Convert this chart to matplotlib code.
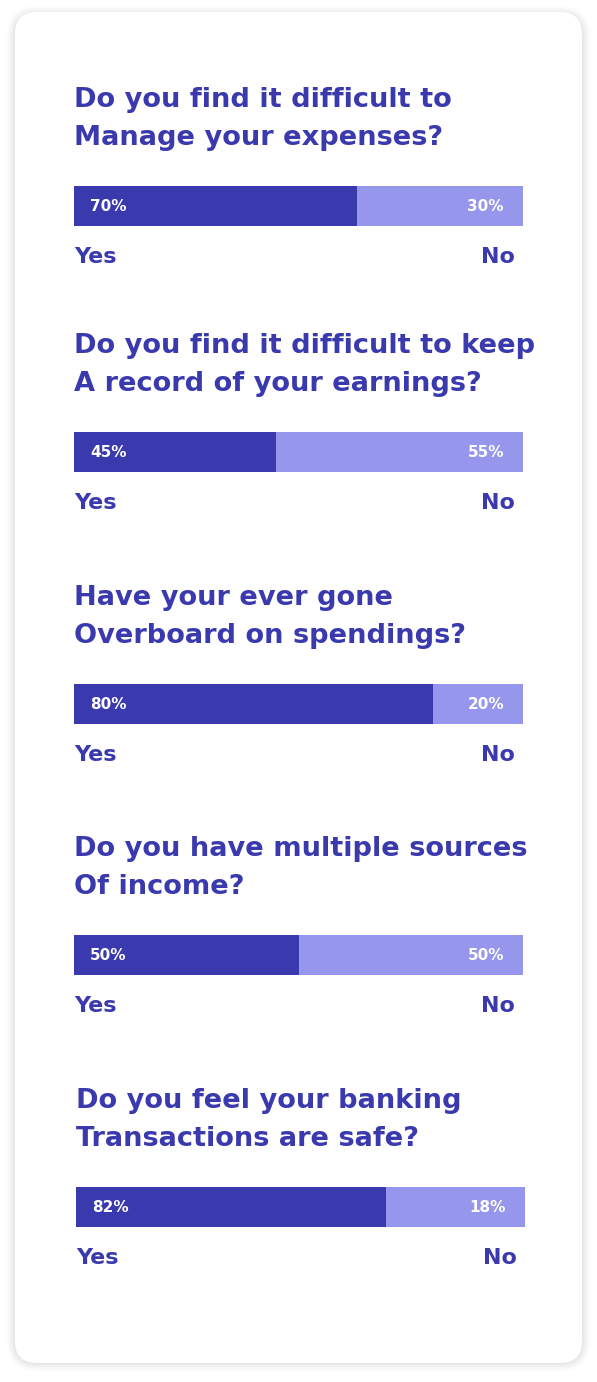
import matplotlib.pyplot as plt
from matplotlib.patches import FancyBboxPatch

# survey data
questions = [
    "Do you find it difficult to\nManage your expenses?",
    "Do you find it difficult to keep\nA record of your earnings?",
    "Have your ever gone\nOverboard on spendings?",
    "Do you have multiple sources\nOf income?",
    "Do you feel your banking\nTransactions are safe?",
]
yes_labels = [70, 45, 80, 50, 82]
no_labels = [30, 55, 20, 50, 18]
# split of the bar as drawn in the picture (percent of the bar)
yes_bar = [63, 45, 80, 50, 69]

dark = "#3a3aae"
light = "#9696ec"
font = "DejaVu Sans"

W, H = 597, 1382
fig = plt.figure(figsize=(W / 100, H / 100), dpi=100)
fig.patch.set_facecolor("white")
ax = fig.add_axes([0, 0, 1, 1])
ax.set_xlim(0, W)
ax.set_ylim(H, 0)
ax.axis("off")

# card with a soft shadow
for i, a in enumerate([0.015, 0.02, 0.025, 0.03]):
    g = 8 - 2 * i
    sh = FancyBboxPatch((15 - g, 14 - g), 567 + 2 * g, 1349 + 2 * g,
                        boxstyle="round,pad=0,rounding_size=%d" % (22 + g),
                        fc="black", ec="none", alpha=a)
    ax.add_patch(sh)
card = FancyBboxPatch((15, 12), 567, 1351, boxstyle="round,pad=0,rounding_size=22",
                      fc="white", ec="none")
ax.add_patch(card)

bar_tops = [186, 432, 684, 935, 1187]
x_off = [74, 74, 74, 74, 76]
bar_w = 449
bar_h = 40

for i in range(len(questions)):
    top = bar_tops[i]
    x0 = x_off[i]
    yc = top + bar_h / 2
    yes_w = yes_bar[i] / 100 * bar_w
    ax.barh(yc, yes_w, left=x0, height=bar_h, color=dark)
    ax.barh(yc, bar_w - yes_w, left=x0 + yes_w, height=bar_h, color=light)
    ax.text(x0 + 16, yc, "%d%%" % yes_labels[i], color="white", fontsize=11,
            fontweight="bold", family=font, ha="left", va="center")
    ax.text(x0 + bar_w - 19, yc, "%d%%" % no_labels[i], color="white", fontsize=11,
            fontweight="bold", family=font, ha="right", va="center")

    line1, line2 = questions[i].split("\n")
    ax.text(x0, top - 86, line1, color=dark, fontsize=19.6, fontweight="bold",
            family=font, ha="left", va="center")
    ax.text(x0, top - 48, line2, color=dark, fontsize=19.6, fontweight="bold",
            family=font, ha="left", va="center")

    ax.text(x0, top + 71, "Yes", color=dark, fontsize=16, fontweight="bold",
            family=font, ha="left", va="center")
    ax.text(x0 + bar_w - 8, top + 71, "No", color=dark, fontsize=16, fontweight="bold",
            family=font, ha="right", va="center")

fig.savefig("out.png", dpi=100, facecolor="white")
